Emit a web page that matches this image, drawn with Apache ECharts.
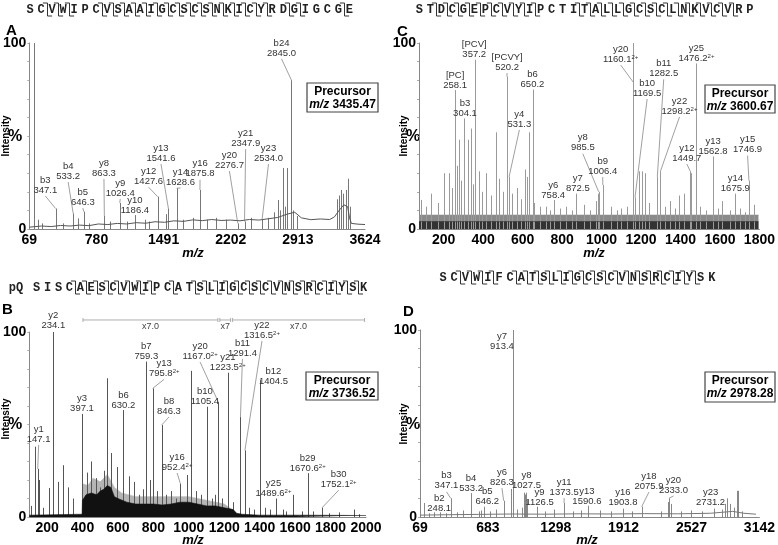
<!DOCTYPE html>
<html><head><meta charset="utf-8">
<script src="https://cdn.jsdelivr.net/npm/echarts@6/dist/echarts.min.js"></script>
<style>html,body{margin:0;padding:0;background:#fff;}#chart{width:778px;height:545px;}</style>
</head><body><div id="chart"></div>
<script>
// ---------------- DATA ----------------
// Panel A
const aTicks = [69, 780, 1491, 2202, 2913, 3624];
const aPeaks = [[118,100],[160,5],[205,3],[347.1,11],[430,3],[533.2,8.4],[583,5.7],[646.3,9.3],[700,3],[863.3,7],[920,4],[1026.4,14],[1100,4],[1186.4,7.5],[1290,5],[1340,4],[1427.6,17.4],[1520,8],[1541.6,11],[1628.6,21.9],[1700,5],[1800,6],[1875.8,21],[1950,5],[2050,6],[2150,5],[2276.7,3],[2347.9,4],[2420,6],[2534,5],[2600,6],[2660,9],[2698,15.6],[2720,10],[2757,32.8],[2780,12],[2802,32.8],[2845,80],[2860,10],[2900,7],[3325,16],[3350,18],[3370,21],[3395,19],[3420,21],[3447,27],[3460,12]];
const aBase = [[69,1],[200,1.6],[300,1.3],[400,1.9],[500,1.6],[600,2.1],[700,1.8],[800,2.7],[900,2.4],[1000,3],[1100,2.7],[1200,3.4],[1300,3.1],[1400,3.9],[1500,3.6],[1600,4.4],[1700,4.1],[1800,4.9],[1900,4.5],[2000,5.1],[2100,4.6],[2200,4.8],[2300,4.4],[2400,5.1],[2500,4.8],[2600,5.5],[2700,6.2],[2800,8],[2880,9],[2950,6],[3050,5],[3150,5.4],[3250,5.1],[3300,6.5],[3350,10],[3400,13],[3440,12],[3460,6],[3480,3],[3550,2.6],[3624,2.4]];
const aLabels = [
  [347.1,11,238,18.3,'b3','347.1',''],[533.2,8.4,480,25.8,'b4','533.2',''],[646.3,9.3,635,11.8,'b5','646.3',''],
  [863.3,7,859,27.4,'y8','863.3',''],[1026.4,14,1032,16.7,'y9','1026.4',''],[1186.4,7.5,1187,7.5,'y10','1186.4',''],
  [1427.6,17.4,1332,23,'y12','1427.6',''],[1541.6,11,1463,35.5,'y13','1541.6',''],[1628.6,21.9,1670,22.6,'y14','1628.6',''],
  [1875.8,21,1877,27,'y16','1875.8',''],[2276.7,3,2188,31.7,'y20','2276.7',''],[2347.9,4,2360,43.5,'y21','2347.9',''],
  [2534.0,5,2602,35.5,'y23','2534.0',''],[2845.0,80,2740,92,'b24','2845.0','']
];
const aSeq = 'SCVWIPCVSAAIGCSCSNKICYRDGIGCGE'.split('');
const aSeqMarks = [1,2,3,6,7,8,9,10,11,12,13,14,15,16,17,18,19,20,21,23,24,28];

// Panel C
const cTicks = [200,400,600,800,1000,1200,1400,1600,1800];
const cPeaks = [[87,15.6],[110,12],[138,19],[170,14],[201,30],[226,30],[240,22],[258.1,74.7],[266,34],[276,48],[290,26],[304.1,59.5],[321,48],[338,54],[350,24],[357.2,91],[380,31],[395,20],[413,30],[440,18],[463,52],[480,27],[500,20],[520.2,82],[531.3,28],[548,19],[570,22],[590,16],[610,32],[620,28],[630,52],[650.2,75],[660,14],[690,12],[720,12],[740,10],[758.4,15.6],[790,11],[820,12],[850,10],[872.5,19],[910,13],[940,10],[970,15],[981,19],[985.5,20],[1006.4,23.7],[1050,12],[1080,10],[1100,11],[1130,12],[1160.1,100],[1169.5,17],[1189,31],[1206,31],[1218,30],[1240,14],[1282.5,28],[1298.2,31],[1320,12],[1348,15],[1370,11],[1390,18],[1420,19],[1449.7,31],[1455,30],[1476.2,89],[1500,12],[1530,10],[1562.8,39],[1590,11],[1610,15],[1650,10],[1675.9,19],[1700,11],[1725,9],[1746.9,26],[1770,13]];
const cBandLight = [[75,7.5],[1795,7.5]];
const cBandDark = [[75,4],[1795,4]];
const cLabels = [
  [258.1,74.7,258,74.7,'[PC]','258.1',''],[304.1,59.5,308,59.5,'b3','304.1',''],[357.2,91,355,91,'[PCV]','357.2',''],
  [520.2,82,521.5,84.4,'[PCVY]','520.2',''],[531.3,28,583.6,53.8,'y4','531.3',''],[650.2,75,650,75,'b6','650.2',''],
  [758.4,15.6,755,15.6,'y6','758.4',''],[872.5,19,880,19.4,'y7','872.5',''],[985.5,20,905,41,'y8','985.5',''],
  [1006.4,23.7,1006,28.5,'b9','1006.4',''],[1160.1,79,1097,88.7,'y20','1160.1','2+'],[1169.5,17,1231,70.4,'b10','1169.5',''],
  [1282.5,28,1315,81,'b11','1282.5',''],[1298.2,31,1395,60.8,'y22','1298.2','2+'],[1476.2,89,1481,89,'y25','1476.2','2+'],
  [1449.7,31,1432,35.5,'y12','1449.7',''],[1562.8,39,1565,39,'y13','1562.8',''],[1746.9,26,1740,40,'y15','1746.9',''],
  [1675.9,19,1678,19.4,'y14','1675.9','']
];
const cSeq = 'STDCGEPCVYIPCTITALLGCSCLNKVCVRP'.split('');
const cSeqMarks = [1,2,3,4,5,6,7,8,9,10,14,15,16,17,18,19,20,21,22,23,24,25,26,27,28];

// Panel B
const bTicks = [200,400,600,800,1000,1200,1400,1600,1800,2000];
const bPeaks = [[110,6],[130,38],[147.1,26],[155,20],[175,5],[213,15.7],[234.1,100],[263,19],[290,28],[320,16],[345,10],[397.1,55.7],[425,24],[450,30],[475,21],[500,16],[520,25],[539,75],[563,34.6],[593,27],[630.2,57.8],[660,22],[690,19],[720,12],[740,15],[759.3,84],[780,20],[795.8,69.5],[820,14],[846.3,49.7],[870,12],[900,14],[930,10],[952.4,18],[990,22.7],[1012,79],[1040,14],[1070,12],[1105.4,59.6],[1130,10],[1150,12],[1167,62],[1190,10],[1223.5,78],[1250,8],[1291.4,54],[1316.5,36],[1340,5],[1370,4],[1404.5,74],[1430,5],[1460,4],[1489.6,10],[1530,4],[1550,3],[1590,12],[1640,3],[1670.6,23.7],[1700,3],[1752.1,5],[1790,2],[1850,2.5],[1930,4],[1960,1.5]];
const bForestLight = [[398,0],[400,18],[430,17],[460,21],[500,19],[540,23],[580,16],[620,13],[700,11],[800,11],[900,11],[1000,11],[1100,9],[1200,7],[1260,3],[1270,0]];
const bForestDark = [[100,1],[398,1.5],[400,9],[420,12],[450,13],[480,12],[500,14],[520,15],[540,17],[560,16],[580,11],[600,10],[650,8],[700,7],[750,7],[800,7],[850,6.5],[900,7],[950,8],[1000,8],[1050,7],[1100,6],[1150,6],[1200,5],[1250,4],[1270,2],[1300,1.5],[1400,1],[1600,1],[2000,0.8]];
const bLabels = [
  [147.1,26,152.5,39.5,'y1','147.1',''],[234.1,100,235,101,'y2','234.1',''],[397.1,55.7,397,56,'y3','397.1',''],
  [630.2,57.8,631,57.8,'b6','630.2',''],[759.3,84,760,84.3,'b7','759.3',''],[795.8,69.5,861,75,'y13','795.8','2+'],
  [846.3,49.7,888,54.6,'b8','846.3',''],[952.4,18,934,24.3,'y16','952.4','2+'],[1167.0,62,1063.6,84.3,'y20','1167.0','2+'],
  [1105.4,59.6,1091,59.6,'b10','1105.4',''],[1223.5,78,1220,78,'y21','1223.5','2+'],[1291.4,54,1302.7,86,'b11','1291.4',''],
  [1316.5,36,1413,95.7,'y22','1316.5','2+'],[1477.8,70.8,1477.8,70.8,'b12','1404.5',''],[1489.6,10,1478,10.3,'y25','1489.6','2+'],
  [1670.6,23.7,1671,23.7,'b29','1670.6','2+'],[1752.1,5,1845.6,15,'b30','1752.1','2+']
];
const bScaleBars = [[402.6,1164,'x7.0'],[1175,1236,'x7'],[1247,1992,'x7.0']];
const bScaleLevel = 106.5;
const bSeq = ['pQ'].concat('SISCAESCVWIPCATSLIGCSCVNSRCIYSK'.split(''));
const bSeqMarks = [4,5,6,7,8,9,10,11,13,15,16,17,18,19,20,21,22,23,24,25,26,27,28,29,30];

// Panel D
const dTicks = [69, 683, 1298, 1912, 2527, 3142];
const dPeaks = [[101,7.5],[150,2],[200,2.5],[248.1,2.5],[300,2],[347.1,10],[400,2.5],[460,3.5],[533.2,12.8],[600,3],[620,3.5],[646.2,5.5],[700,3],[760,4],[826.3,8.7],[889,15],[913.4,100],[950,4],[990,5],[1010,13],[1020,12],[1027.5,13],[1040,9],[1126.5,5.5],[1200,3],[1280,4],[1373.5,7.5],[1450,3],[1530,3.5],[1590.6,6],[1700,3.5],[1800,3],[1903.8,4.5],[1990,3],[2075.9,5.5],[2250,3],[2310,8],[2323,10],[2340,7],[2430,3],[2520,3.5],[2620,3],[2731.2,4.5],[2800,4],[2830,7],[2852,10],[2880,7],[2910,5],[2940,14],[2950,14],[2980,3]];
const dBase = [[69,1],[300,1.2],[600,1.4],[900,1.6],[1200,1.5],[1500,1.7],[1800,1.6],[2100,1.8],[2400,1.7],[2700,2],[2900,3],[3000,2],[3110,1.5]];
const dLabels = [
  [811,88.8,811,88.8,'y7','913.4',''],[248.1,2.5,243,2.2,'b2','248.1',''],[347.1,10,309,14,'b3','347.1',''],
  [533.2,12.8,531,12.8,'b4','533.2',''],[646.2,5.5,678,5.5,'b5','646.2',''],[826.3,8.7,811,16,'y6','826.3',''],
  [1027.5,13,1033,14.4,'y8','1027.5',''],[1126.5,5.5,1152,5,'y9','1126.5',''],[1373.5,7.5,1374,10.7,'y11','1373.5',''],
  [1590.6,6,1580,5.5,'y13','1590.6',''],[1903.8,4.5,1906,5,'y16','1903.8',''],[2075.9,5.5,2142,13.9,'y18','2075.9',''],
  [2323,10,2364,11.8,'y20','2333.0',''],[2700,5,2700,5,'y23','2731.2','']
];
const dSeq = 'SCVWIFCATSLIGCSCVNSRCIYSK'.split('');
const dSeqMarks = [1,2,3,4,6,7,8,9,10,11,12,13,14,15,16,17,18,19,20,21,22];

const precursors = ['3435.47','3600.67','3736.52','2978.28'];

// ---------------- BUILD ----------------
const SANS = 'Liberation Sans, Arial, sans-serif';
const grids = [
  {left:22, top:43, width:343, height:186},
  {left:419, top:43, width:344.5, height:186},
  {left:22, top:332, width:344, height:185},
  {left:420, top:330, width:346, height:187}
];
const xr = [[69,3624,aTicks],[75,1800,cTicks],[100,2000,bTicks],[69,3142,dTicks]];

function xAx(gi){
  return {type:'value', gridIndex:gi, min:xr[gi][0], max:xr[gi][1], splitLine:{show:false},
    axisLine:{show:true, onZero:false, lineStyle:{color:'#888', width:1}}, axisTick:{show:false},
    axisLabel:{customValues:xr[gi][2], formatter:v => String(v), fontSize:14, fontWeight:'bold', color:'#000', margin:4, fontFamily:SANS}};
}
function yAx(gi){
  return {type:'value', gridIndex:gi, min:0, max:100, splitLine:{show:false},
    axisLine:{show:true, lineStyle:{color:'#888', width:1}},
    axisTick:{show:true, customValues:[0,10,20,30,40,50,60,70,80,90,100], length:2, lineStyle:{color:'#aaa'}},
    axisLabel:{customValues:[0,100], formatter:v => String(v), fontSize:14, fontWeight:'bold', color:'#000', margin:3, fontFamily:SANS}};
}

function peakSeries(gi, data, color){
  return {type:'custom', xAxisIndex:gi, yAxisIndex:gi, data:data, silent:true, clip:true,
    renderItem:function(p, api){
      const a = api.coord([api.value(0), 0]);
      const b = api.coord([api.value(0), api.value(1)]);
      const x = Math.round(a[0]) + 0.5;
      return {type:'line', shape:{x1:x, y1:a[1], x2:x, y2:b[1]}, style:{stroke:color, lineWidth:1}};
    }};
}
function areaSeries(gi, data, color, z){
  return {type:'line', xAxisIndex:gi, yAxisIndex:gi, data:data, symbol:'none', silent:true, z:z||1,
    lineStyle:{color:color, width:0.6}, areaStyle:{color:color, opacity:1}};
}
function baseSeries(gi, data, color){
  return {type:'line', xAxisIndex:gi, yAxisIndex:gi, data:data, symbol:'none', silent:true,
    lineStyle:{color:color, width:1}};
}
function annSeries(gi, list){
  return {type:'custom', xAxisIndex:gi, yAxisIndex:gi, silent:true, clip:false, z:5,
    data:list.map(d => [d[0], d[1], d[2], d[3]]),
    renderItem:function(p, api){
      const d = list[p.dataIndex];
      const pk = api.coord([d[0], d[1]]);
      const lb = api.coord([d[2], d[3]]);
      const ch = [];
      if (Math.hypot(pk[0]-lb[0], pk[1]-lb[1]) > 4) {
        ch.push({type:'line', shape:{x1:lb[0], y1:lb[1]+1, x2:pk[0], y2:pk[1]}, style:{stroke:'#777', lineWidth:0.7}});
      }
      const sup = d[6] ? '{s|' + d[6] + '}' : '';
      ch.push({type:'text', x:lb[0], y:lb[1], style:{
        text:'{n|' + d[4] + '}\n{n|' + d[5] + '}' + sup, align:'center', verticalAlign:'bottom',
        rich:{n:{fontSize:9.5, lineHeight:10, fill:'#333', fontFamily:SANS},
              s:{fontSize:6, lineHeight:10, fill:'#333', fontFamily:SANS, verticalAlign:'top'}}}});
      return {type:'group', children:ch};
    }};
}
function scaleSeries(gi, list, level){
  return {type:'custom', xAxisIndex:gi, yAxisIndex:gi, silent:true, clip:false, z:5,
    data:list.map(d => [d[0], d[1]]),
    renderItem:function(p, api){
      const d = list[p.dataIndex];
      const a = api.coord([d[0], level]);
      const b = api.coord([d[1], level]);
      return {type:'group', children:[
        {type:'line', shape:{x1:a[0], y1:a[1], x2:b[0], y2:b[1]}, style:{stroke:'#999', lineWidth:0.8}},
        {type:'line', shape:{x1:a[0], y1:a[1]-2, x2:a[0], y2:a[1]+2}, style:{stroke:'#999', lineWidth:0.8}},
        {type:'line', shape:{x1:b[0], y1:b[1]-2, x2:b[0], y2:b[1]+2}, style:{stroke:'#999', lineWidth:0.8}},
        {type:'text', x:(a[0]+b[0])/2, y:a[1]+2, style:{text:d[2], align:'center', verticalAlign:'top', fontSize:9, fill:'#444', fontFamily:SANS}}
      ]};
    }};
}

// ---------- graphics (text furniture) ----------
const gfx = [];
function txt(x, y, text, opt){
  gfx.push({type:'text', x:x, y:y, style:Object.assign({text:text, fill:'#000', fontFamily:SANS, align:'center', verticalAlign:'middle'}, opt||{})});
}
function vtxt(x, y, text){
  gfx.push({type:'text', x:x, y:y, rotation:Math.PI/2, style:{text:text, fill:'#000', fontFamily:SANS, fontSize:10, fontWeight:'bold', align:'center', verticalAlign:'middle'}});
}
function precursorBox(x, y, w, h, val){
  gfx.push({type:'rect', shape:{x:x, y:y, width:w, height:h}, style:{fill:'#fff', stroke:'#444', lineWidth:1.2}, z:10});
  gfx.push({type:'text', x:x+w/2, y:y+8.5, z:11, style:{text:'Precursor', fontSize:12, fontWeight:'bold', fill:'#000', fontFamily:SANS, align:'center', verticalAlign:'middle'}});
  gfx.push({type:'text', x:x+w/2, y:y+21.5, z:11, style:{text:'{i|m/z} {b|' + val + '}', align:'center', verticalAlign:'middle',
    rich:{i:{fontSize:12, fontWeight:'bold', fontStyle:'italic', fill:'#000', fontFamily:SANS}, b:{fontSize:12, fontWeight:'bold', fill:'#000', fontFamily:SANS}}}});
}
function sequence(tokens, x0, pitch, y, marks, firstPitch){
  const xs = [];
  let x = x0;
  tokens.forEach((t, i) => {
    xs.push(x);
    gfx.push({type:'text', x:x, y:y, style:{text:t, fontSize:12, fontFamily:'Courier New, Liberation Mono, monospace', fontWeight:'bold', fill:'#222', align:'center', verticalAlign:'middle'}});
    x += (i === 0 && firstPitch) ? firstPitch : pitch;
  });
  marks.forEach(i => {
    const bx = Math.round((xs[i] + xs[i+1]) / 2) + 0.5;
    const yt = y - 7, yb = y + 6;
    const h = pitch * 0.42;
    gfx.push({type:'polyline', shape:{points:[[bx - h, yt], [bx, yt], [bx, yb], [bx + h, yb]]}, style:{stroke:'#333', lineWidth:1, fill:null}});
  });
}

// panel letters
txt(6, 31, 'A', {fontSize:15, fontWeight:'bold', align:'left'});
txt(397, 32, 'C', {fontSize:15, fontWeight:'bold', align:'left'});
txt(2, 310, 'B', {fontSize:15, fontWeight:'bold', align:'left'});
txt(403, 312, 'D', {fontSize:15, fontWeight:'bold', align:'left'});
// intensity labels
vtxt(6, 136, 'Intensity'); txt(15, 137, '%', {fontSize:16, fontWeight:'bold'});
vtxt(404, 136, 'Intensity'); txt(413, 137, '%', {fontSize:16, fontWeight:'bold'});
vtxt(6, 419, 'Intensity'); txt(15, 425, '%', {fontSize:16, fontWeight:'bold'});
vtxt(404, 424, 'Intensity'); txt(413, 425, '%', {fontSize:16, fontWeight:'bold'});
// m/z axis titles
[[193,253],[594,253],[193,540],[587,540]].forEach(p => txt(p[0], p[1], 'm/z', {fontSize:13, fontWeight:'bold', fontStyle:'italic'}));
// precursor boxes
precursorBox(307, 83, 71, 29, precursors[0]);
precursorBox(705, 85, 70, 28, precursors[1]);
precursorBox(306, 372, 72, 28, precursors[2]);
precursorBox(705, 372, 70, 30, precursors[3]);
// sequences
sequence(aSeq, 30, 11.01, 10, aSeqMarks);
sequence(cSeq, 419.3, 11.02, 10, cSeqMarks);
sequence(bSeq, 16, 10.9, 288, bSeqMarks, 20.7);
sequence(dSeq, 443, 11.2, 278, dSeqMarks);

const option = {
  animation:false,
  backgroundColor:'#fff',
  grid:grids,
  xAxis:[xAx(0), xAx(1), xAx(2), xAx(3)],
  yAxis:[yAx(0), yAx(1), yAx(2), yAx(3)],
  graphic:gfx,
  series:[
    baseSeries(0, aBase, '#555'),
    peakSeries(0, aPeaks, '#777'),
    annSeries(0, aLabels),
    areaSeries(1, cBandLight, '#8a8a8a', 1),
    areaSeries(1, cBandDark, '#333', 2),
    peakSeries(1, cPeaks, '#9a9a9a'),
    annSeries(1, cLabels),
    areaSeries(2, bForestLight, '#b5b5b5', 1),
    peakSeries(2, bPeaks, '#555'),
    areaSeries(2, bForestDark, '#111', 3),
    annSeries(2, bLabels),
    scaleSeries(2, bScaleBars, bScaleLevel),
    baseSeries(3, dBase, '#777'),
    peakSeries(3, dPeaks, '#888'),
    annSeries(3, dLabels)
  ]
};
const chart = echarts.init(document.getElementById('chart'));
chart.setOption(option);
</script></body></html>
